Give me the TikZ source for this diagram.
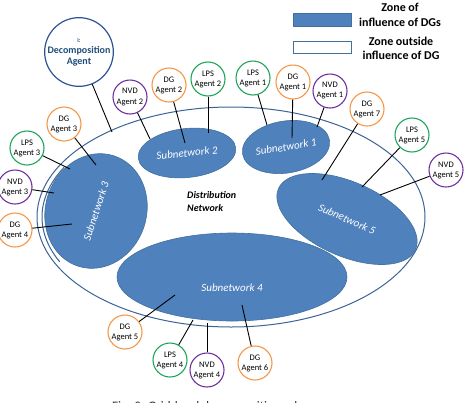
\documentclass[tikz,border=0pt]{standalone}
\usepackage{fontspec}
\newfontfamily\cf{Carlito}
\usetikzlibrary{shapes.geometric}
\definecolor{subfill}{HTML}{4F81BD}
\definecolor{subline}{HTML}{41719C}
\definecolor{zoneline}{HTML}{3B6396}
\definecolor{dgc}{HTML}{F79646}
\definecolor{lpsc}{HTML}{1FA55A}
\definecolor{nvdc}{HTML}{7030A0}
\definecolor{decc}{HTML}{2F5496}
\definecolor{dect}{HTML}{1F4E79}
\tikzset{
  agent/.style={circle, draw, line width=1.1pt, minimum size=34pt, inner sep=0pt,
    align=center, fill=white, font=\cf\fontsize{8.5}{10}\selectfont},
  dg/.style={agent, draw=dgc},
  lps/.style={agent, draw=lpsc},
  nvd/.style={agent, draw=nvdc},
  subnet/.style={ellipse, fill=subfill, draw=subline, line width=0.6pt, inner sep=0pt,
    text=white, font=\cf\itshape\fontsize{11}{13}\selectfont},
  conn/.style={draw=black, line width=0.9pt},
  zone/.style={draw=zoneline, line width=1pt},
  legtext/.style={align=center, font=\cf\bfseries\fontsize{12}{15.5}\selectfont, inner sep=0pt}
}
\begin{document}
\begin{tikzpicture}[x=1pt,y=-1pt]
\useasboundingbox (0,0) rectangle (465,402);
\clip (0,0) rectangle (465,402);

% legend
\node[rectangle, fill=subfill, draw=subline, line width=0.6pt, minimum width=58pt, minimum height=13pt, inner sep=0pt] (leg1) at (322,19.5) {};
\node[rectangle, fill=white, draw=subline, line width=1pt, minimum width=58pt, minimum height=12pt, inner sep=0pt] (leg2) at (322,47) {};
\node[legtext] (legt1) at (400,15) {Zone of\\influence of DGs};
\node[legtext, font=\cf\bfseries\fontsize{12}{14}\selectfont] (legt2) at (401,48) {Zone outside\\influence of DG};

% outer zone
\draw[zone] (231,217) ellipse [x radius=194pt, y radius=110pt];
\coordinate (zc) at (231,217);
\draw[zone] (zc) ++(152:189pt and 106pt) arc[start angle=152, end angle=205, x radius=189pt, y radius=106pt];

% subnetworks
\node[subnet, minimum width=98pt, minimum height=49pt, rotate=6] (sn2) at (187,153) {Subnetwork 2};
\node[subnet, minimum width=88pt, minimum height=52pt, rotate=9] (sn1) at (286,147) {Subnetwork 1};
\node[subnet, minimum width=116pt, minimum height=101pt, rotate=72] (sn3) at (96,211) {Subnetwork 3};
\node[subnet, minimum width=150pt, minimum height=74pt, rotate=-24] (sn5) at (347,219) {Subnetwork 5};
\node[subnet, minimum width=230pt, minimum height=88pt, text height=28pt, text depth=0pt] (sn4) at (232,277) {Subnetwork 4};

\node[align=left, anchor=west, inner sep=0pt, font=\cf\bfseries\itshape\fontsize{10}{13}\selectfont] (dn) at (187,201.5) {Distribution\\Network};

% agents
\node[circle, draw=decc, line width=1.2pt, minimum size=66pt, inner sep=0pt, fill=white, align=center,
  text=dect, font=\cf\bfseries\fontsize{10}{11}\selectfont] (dec) at (79,52) {{\fontsize{6}{7}\selectfont i:}\\Decomposition\\Agent};
\node[nvd] (nvd2) at (130,97) {NVD\\Agent 2};
\node[dg] (dg2) at (169,85) {DG\\Agent 2};
\node[lps] (lps2) at (208,79) {LPS\\Agent 2};
\node[lps] (lps1) at (253,78) {LPS\\Agent 1};
\node[dg] (dg1) at (293,82) {DG\\Agent 1};
\node[nvd] (nvd1) at (330,91) {NVD\\Agent 1};
\node[dg] (dg7) at (367,109) {DG\\Agent 7};
\node[lps] (lps5) at (412,135) {LPS\\Agent 5};
\node[nvd] (nvd5) at (446,170) {NVD\\Agent 5};
\node[dg] (dg3) at (64,124) {DG\\Agent 3};
\node[lps] (lps3) at (27,148) {LPS\\Agent 3};
\node[nvd] (nvd3) at (15,187) {NVD\\Agent 3};
\node[dg] (dg4) at (15,230) {DG\\Agent 4};
\node[dg] (dg5) at (125,332) {DG\\Agent 5};
\node[lps] (lps4) at (170,360) {LPS\\Agent 4};
\node[nvd] (nvd4) at (207,370) {NVD\\Agent 4};
\node[dg] (dg6) at (255,363) {DG\\Agent 6};

% connector ends
\coordinate (edec) at (112,132);
\coordinate (envd2) at (150,139);
\coordinate (edg2) at (185,143);
\coordinate (elps2) at (208,133);
\coordinate (elps1) at (267,125);
\coordinate (edg1) at (292,138);
\coordinate (envd1) at (317,127);
\coordinate (edg7) at (322,180);
\coordinate (elps5) at (362,187);
\coordinate (envd5) at (380,195);
\coordinate (edg3) at (96,165);
\coordinate (elps3) at (70,169);
\coordinate (envd3) at (54,193);
\coordinate (edg4) at (72,224);
\coordinate (edg5) at (175,295);
\coordinate (elps4) at (193,320);
\coordinate (envd4) at (207,323);
\coordinate (edg6) at (242,305);

\foreach \n in {dec,nvd2,dg2,lps2,lps1,dg1,nvd1,dg7,lps5,nvd5,dg3,lps3,nvd3,dg4,dg5,lps4,nvd4,dg6}
  \draw[conn] (\n) -- (e\n);

% caption (cut off by the picture's lower edge)
\node[anchor=base west, inner sep=0pt, text=black!80, font=\cf\fontsize{13}{15}\selectfont] (cap) at (112,410.5) {Fig. 3. Grid-level decomposition scheme};
\end{tikzpicture}
\end{document}
